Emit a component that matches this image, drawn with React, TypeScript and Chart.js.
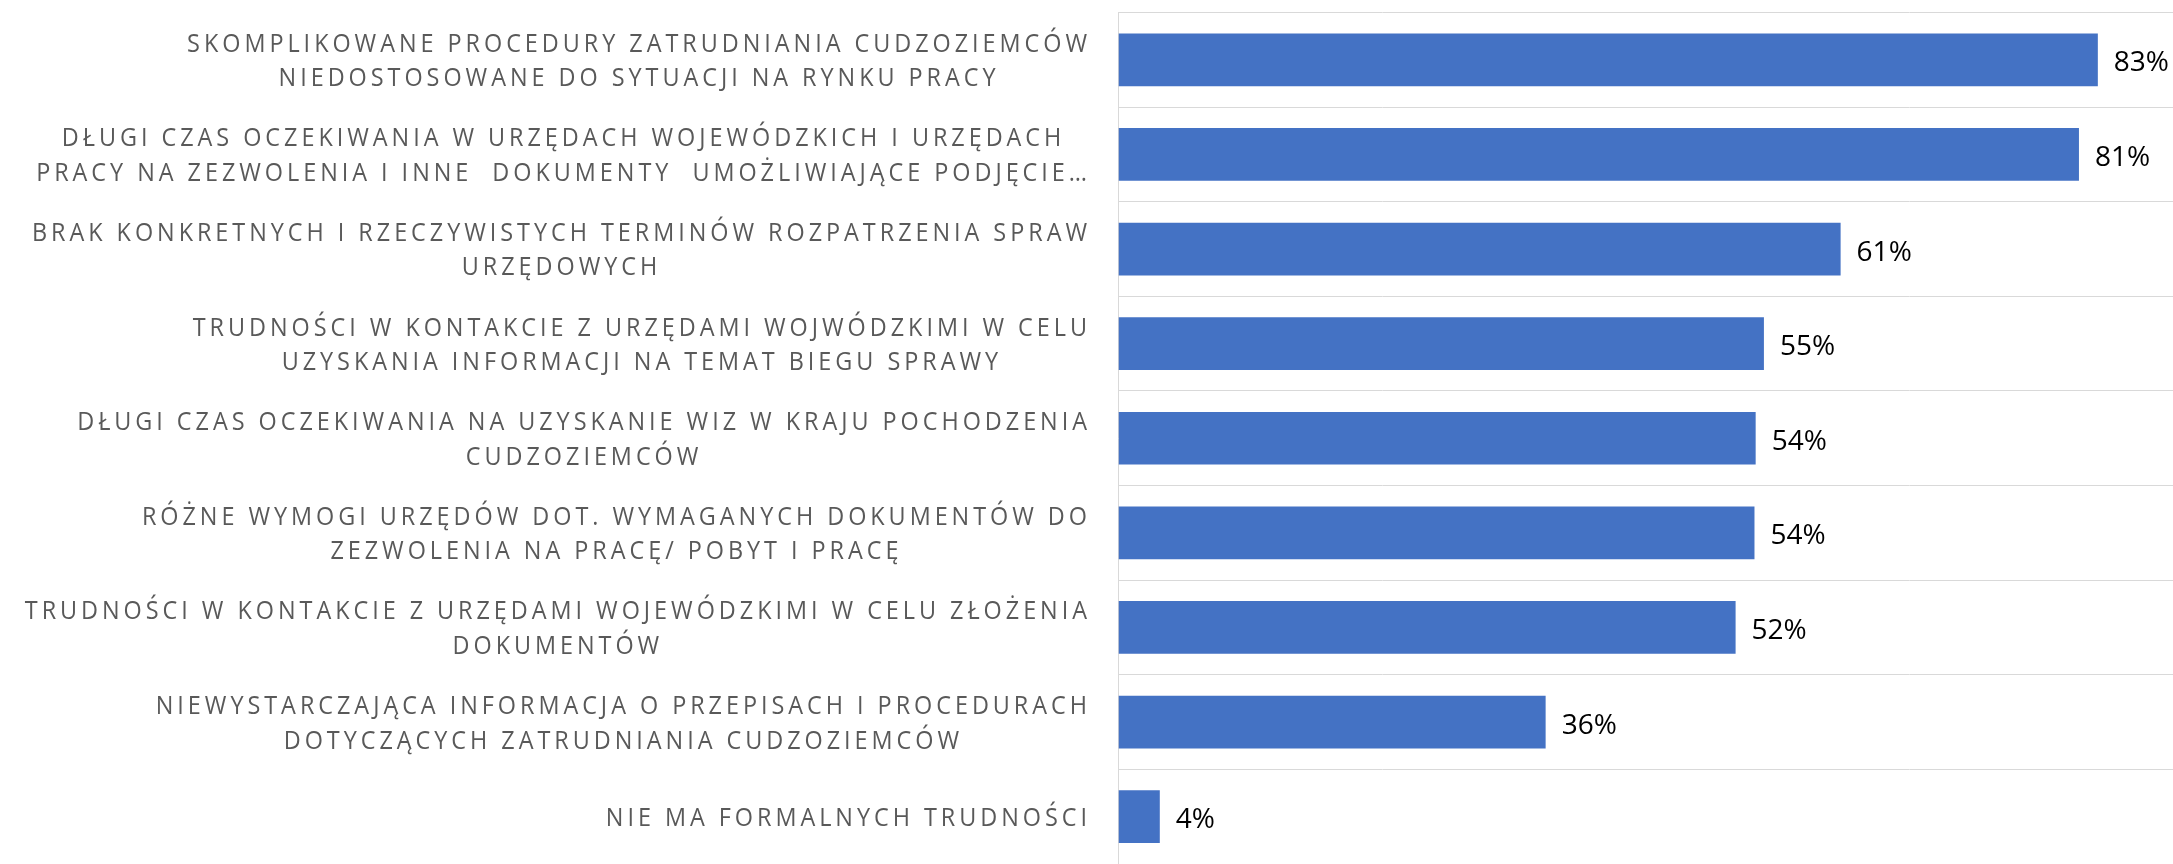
import React, { useEffect, useRef } from 'react';
import { Chart, registerables } from 'chart.js';

Chart.register(...registerables);

const categories: string[][] = [
  ['SKOMPLIKOWANE PROCEDURY ZATRUDNIANIA CUDZOZIEMCÓW', 'NIEDOSTOSOWANE DO SYTUACJI NA RYNKU PRACY'],
  ['DŁUGI CZAS OCZEKIWANIA W URZĘDACH WOJEWÓDZKICH I URZĘDACH', 'PRACY NA ZEZWOLENIA I INNE  DOKUMENTY  UMOŻLIWIAJĄCE PODJĘCIE…'],
  ['BRAK KONKRETNYCH I RZECZYWISTYCH TERMINÓW ROZPATRZENIA SPRAW', 'URZĘDOWYCH'],
  ['TRUDNOŚCI W KONTAKCIE Z URZĘDAMI WOJWÓDZKIMI W CELU', 'UZYSKANIA INFORMACJI NA TEMAT BIEGU SPRAWY'],
  ['DŁUGI CZAS OCZEKIWANIA NA UZYSKANIE WIZ W KRAJU POCHODZENIA', 'CUDZOZIEMCÓW'],
  ['RÓŻNE WYMOGI URZĘDÓW DOT. WYMAGANYCH DOKUMENTÓW DO', 'ZEZWOLENIA NA PRACĘ/ POBYT I PRACĘ'],
  ['TRUDNOŚCI W KONTAKCIE Z URZĘDAMI WOJEWÓDZKIMI W CELU ZŁOŻENIA', 'DOKUMENTÓW'],
  ['NIEWYSTARCZAJĄCA INFORMACJA O PRZEPISACH I PROCEDURACH', 'DOTYCZĄCYCH ZATRUDNIANIA CUDZOZIEMCÓW'],
  ['NIE MA FORMALNYCH TRUDNOŚCI'],
];

const values: number[] = [83, 81.4, 61.2, 54.7, 54, 53.9, 52.3, 36.2, 3.5];
const valueLabels: string[] = ['83%', '81%', '61%', '55%', '54%', '54%', '52%', '36%', '4%'];

const LABEL_FONT = "26px 'Open Sans', sans-serif";
const LABEL_SCALE_X = 0.9;
const VALUE_FONT = "28px 'Open Sans', sans-serif";
const REF_LINE = 'BRAK KONKRETNYCH I RZECZYWISTYCH TERMINÓW ROZPATRZENIA SPRAW';

export default function App() {
  const ref = useRef<HTMLCanvasElement>(null);

  useEffect(() => {
    document.body.style.margin = '0';
    document.body.style.overflow = 'hidden';
    const canvas = ref.current!;

    const catLabelPlugin = {
      id: 'catLabels',
      afterDraw(chart: any) {
        const ctx = chart.ctx as CanvasRenderingContext2D;
        const yScale = chart.scales.y;
        ctx.save();
        ctx.font = LABEL_FONT;
        ctx.fillStyle = '#595959';
        (ctx as any).letterSpacing = '0px';
        const w0 = ctx.measureText(REF_LINE).width;
        const n0 = Array.from(REF_LINE).length;
        const sp = (1055 / LABEL_SCALE_X - w0) / (n0 - 1);
        const rightX = 1087;
        const lineH = 34.5;
        const blocks = categories.map((lines) =>
          lines.map((l) => (ctx.measureText(l).width + sp * (Array.from(l).length - 1)) * LABEL_SCALE_X)
        );
        (ctx as any).letterSpacing = sp + 'px';
        ctx.textAlign = 'left';
        ctx.textBaseline = 'alphabetic';
        categories.forEach((lines, i) => {
          const cy = yScale.getPixelForValue(i);
          const widths = blocks[i];
          const bw = Math.max(...widths);
          const cx = rightX - bw / 2;
          lines.forEach((line, k) => {
            const ly = cy - ((lines.length - 1) * lineH) / 2 + k * lineH;
            ctx.save();
            ctx.translate(cx - widths[k] / 2, ly + 9.2);
            ctx.scale(LABEL_SCALE_X, 1);
            ctx.fillText(line, 0, 0);
            ctx.restore();
          });
        });
        ctx.restore();
      },
    };

    const valueLabelPlugin = {
      id: 'valueLabels',
      afterDatasetsDraw(chart: any) {
        const ctx = chart.ctx as CanvasRenderingContext2D;
        const meta = chart.getDatasetMeta(0);
        ctx.save();
        (ctx as any).letterSpacing = '0px';
        ctx.font = VALUE_FONT;
        ctx.fillStyle = '#000000';
        ctx.textAlign = 'left';
        ctx.textBaseline = 'alphabetic';
        meta.data.forEach((bar: any, i: number) => {
          ctx.fillText(valueLabels[i], bar.x + 16, bar.y + 11.5);
        });
        ctx.restore();
      },
    };

    const chart = new Chart(canvas, {
      type: 'bar',
      data: {
        labels: categories,
        datasets: [
          {
            data: values,
            backgroundColor: '#4472C4',
            borderWidth: 0,
            barPercentage: 0.5575,
            categoryPercentage: 1,
          },
        ],
      },
      options: {
        indexAxis: 'y',
        responsive: false,
        animation: false,
        layout: { padding: { top: 12.5, bottom: -4, left: 0, right: 0 } },
        plugins: {
          legend: { display: false },
          tooltip: { enabled: false },
        },
        scales: {
          x: {
            display: false,
            min: 0,
            max: 89.37,
          },
          y: {
            grid: { color: '#D9D9D9', lineWidth: 1, drawTicks: false, offset: true },
            border: { display: true, color: '#D9D9D9', width: 1 },
            ticks: { display: false },
            afterFit(scale: any) {
              scale.width = 1118.5;
            },
          },
        },
      },
      plugins: [catLabelPlugin, valueLabelPlugin],
    });

    return () => chart.destroy();
  }, []);

  return <canvas ref={ref} width={2173} height={864} style={{ display: 'block' }} />;
}
